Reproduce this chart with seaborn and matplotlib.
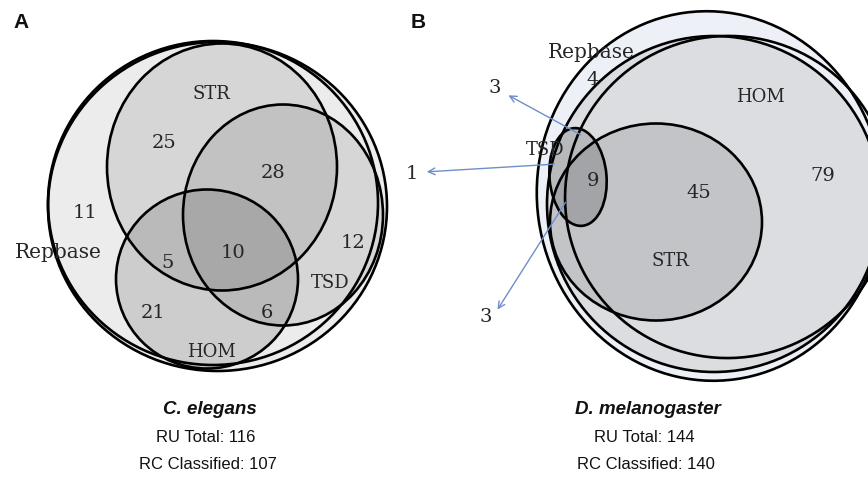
import matplotlib
matplotlib.use("Agg")
import matplotlib.pyplot as plt
from matplotlib.patches import Ellipse
import seaborn as sns

# ---- data -------------------------------------------------------------
species = ["C. elegans", "D. melanogaster"]
ru_total = [116, 144]
rc_classified = [107, 140]

# C. elegans region counts
ce_regions = ["STR", "STR&TSD", "Repbase", "TSD", "STR&HOM", "STR&TSD&HOM", "HOM", "TSD&HOM"]
ce_counts = [25, 28, 11, 12, 5, 10, 21, 6]

# D. melanogaster region counts
dm_regions = ["Repbase", "HOM", "HOM&STR", "TSD&HOM&STR", "TSD_up", "TSD_left", "TSD_down"]
dm_counts = [4, 79, 45, 9, 3, 1, 3]

set_names = ["Repbase", "STR", "TSD", "HOM"]

# ---- figure -----------------------------------------------------------
sns.set_theme(style="white")
plt.rcParams["font.family"] = ["DejaVu Serif"]

fig = plt.figure(figsize=(8.68, 4.81), dpi=100)
ax = fig.add_axes([0, 0, 1, 1])
ax.set_xlim(0, 868)
ax.set_ylim(481, 0)
ax.axis("off")

LW = 1.9
TXT = "#262626"


def blob(cx, cy, w, h, angle=0, face="none", z=1):
    e = Ellipse((cx, cy), w, h, angle=angle, facecolor=face,
                edgecolor="black", linewidth=LW, zorder=z)
    ax.add_patch(e)


def num(x, y, v, size=14):
    ax.text(x, y, str(v), ha="center", va="center", fontsize=size,
            color=TXT, zorder=10)


def name(x, y, s, size=13):
    ax.text(x, y, s, ha="center", va="center", fontsize=size,
            color=TXT, zorder=10)


# ---- panel A: C. elegans ---------------------------------------------
blob(217.5, 207.5, 339, 329, face="#ececec", z=1)
blob(213, 204, 330, 324, face="none", z=2)
blob(222, 168, 230, 247, face=(0, 0, 0, 0.09), z=3)
blob(283, 216, 200, 221, face=(0, 0, 0, 0.09), z=4)
blob(207, 280, 182, 179, face=(0, 0, 0, 0.13), z=5)

ce = dict(zip(ce_regions, ce_counts))
num(164, 143, ce["STR"])
num(273, 173, ce["STR&TSD"])
num(85, 213, ce["Repbase"])
num(353, 243, ce["TSD"])
num(168, 263, ce["STR&HOM"])
num(233, 253, ce["STR&TSD&HOM"])
num(153, 313, ce["HOM"])
num(267, 313, ce["TSD&HOM"])
name(211, 94, set_names[1])
name(58, 253, set_names[0], size=14.5)
name(330, 283, set_names[2])
name(211, 352, set_names[3])

# ---- panel B: D. melanogaster ----------------------------------------
blob(710, 197, 346, 370, angle=-8, face="#edf1f7", z=1)
blob(714, 205, 334, 336, face="#dcdde1", z=2)
blob(728, 198, 326, 322, angle=-10, face="none", z=3)
blob(656, 223, 212, 197, face=(0, 0, 0, 0.11), z=4)
blob(578, 178, 57, 98, angle=-5, face=(0, 0, 0, 0.16), z=5)

dm = dict(zip(dm_regions, dm_counts))
name(591, 53, set_names[0], size=14.5)
num(593, 80, dm["Repbase"])
name(760, 97, set_names[3])
num(823, 176, dm["HOM"])
num(699, 193, dm["HOM&STR"])
num(593, 181, dm["TSD&HOM&STR"])
name(545, 150, set_names[2])
name(670, 261, set_names[1])

# values of the TSD parts that lie outside the drawn shapes
arrow_kw = dict(arrowstyle="->", color="#6e8fcb", lw=1.0, mutation_scale=12)
arrows = [((583, 137), (506, 95)), ((557, 165), (424, 173)), ((567, 201), (496, 313))]
label_pos = [(495, 88), (412, 174), (486, 317)]
for (src, dst), pos, v in zip(arrows, label_pos, dm_counts[4:]):
    ax.annotate("", xy=dst, xytext=src, arrowprops=arrow_kw, zorder=9)
    num(pos[0], pos[1], v)

# ---- panel letters and captions --------------------------------------
for x, letter in [(21, "A"), (418, "B")]:
    ax.text(x, 22, letter, ha="center", va="center", fontsize=15,
            fontweight="bold", family="Liberation Sans", color="#111111")

for cx, sp, tot, cls in zip([210, 648], species, ru_total, rc_classified):
    ax.text(cx, 410, sp, ha="center", va="center", fontsize=13.5,
            fontweight="bold", fontstyle="italic", family="Liberation Sans",
            color="#111111")
    ax.text(cx - 4, 438, f"RU Total: {tot}", ha="center", va="center",
            fontsize=12, family="Liberation Sans", color="#111111")
    ax.text(cx - 2, 465, f"RC Classified: {cls}", ha="center", va="center",
            fontsize=12, family="Liberation Sans", color="#111111")

fig.savefig("out.png", dpi=100)
